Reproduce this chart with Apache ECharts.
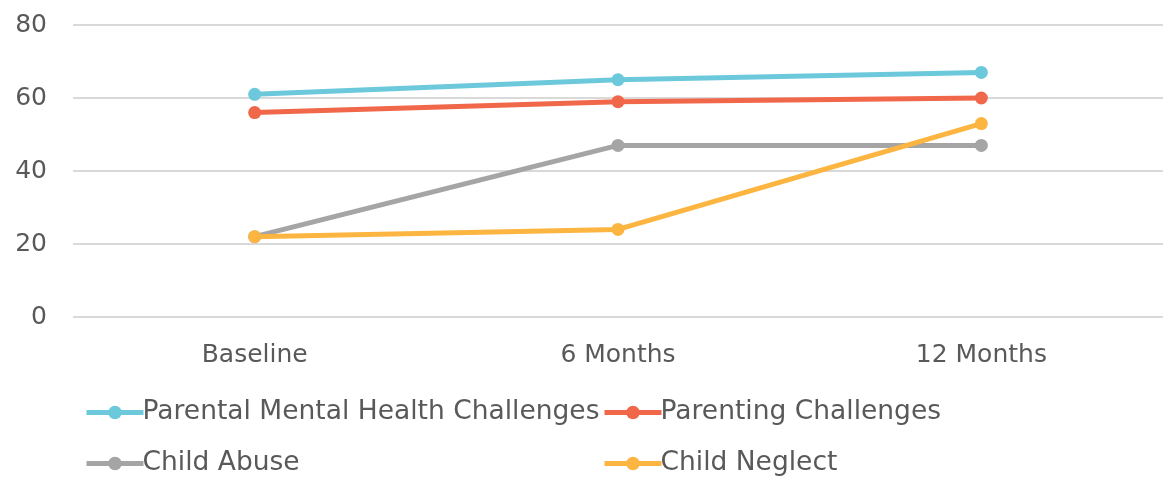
<!DOCTYPE html>
<html>
<head>
<meta charset="utf-8">
<script src="https://cdn.jsdelivr.net/npm/echarts@6/dist/echarts.min.js"></script>
<style>
  html, body { margin: 0; padding: 0; background: #fff; }
  #chart { width: 1173px; height: 477px; }
</style>
</head>
<body>
<div id="chart"></div>
<script>
// 时间点
let categories = ['Baseline', '6 Months', '12 Months'];
let yTicks = [0, 20, 40, 60, 80];

// 各系列数值
let parentalMentalHealth = [61, 65, 67];
let parentingChallenges = [56, 59, 60];
let childAbuse = [22, 47, 47];
let childNeglect = [22, 24, 53];

let fontName = 'DejaVu Sans, sans-serif';
let textColor = '#595959';

function lineSeries(name, data, color) {
    return {
        name: name,
        type: 'line',
        data: data,
        symbol: 'circle',
        symbolSize: 13,
        lineStyle: { width: 5, color: color },
        itemStyle: { color: color },
        emphasis: { disabled: true }
    };
}

let legendCommon = {
    orient: 'vertical',
    top: 399,
    height: 80,
    padding: 0,
    itemGap: 24,
    itemWidth: 57,
    itemHeight: 17,
    lineStyle: { width: 5 },
    textStyle: { fontFamily: fontName, fontSize: 26.5, color: textColor, padding: [0, 0, 0, -6] }
};

let options = {
    animation: false,
    grid: {
        left: 73,
        right: 10,
        top: 25,
        bottom: 160
    },
    legend: [
        Object.assign({ left: 84, data: ['Parental Mental Health Challenges', 'Child Abuse'] }, legendCommon),
        Object.assign({ left: 602, data: ['Parenting Challenges', 'Child Neglect'] }, legendCommon)
    ],
    xAxis: {
        type: 'category',
        data: categories,
        axisLine: { show: false },
        axisTick: { show: false },
        axisLabel: { fontFamily: fontName, fontSize: 25, color: textColor, margin: 26 }
    },
    yAxis: {
        type: 'value',
        min: yTicks[0],
        max: yTicks[yTicks.length - 1],
        interval: 20,
        axisLine: { show: false },
        axisTick: { show: false },
        axisLabel: { fontFamily: fontName, fontSize: 25, color: textColor, margin: 26 },
        splitLine: { lineStyle: { color: '#d9d9d9', width: 2 } }
    },
    series: [
        lineSeries('Parental Mental Health Challenges', parentalMentalHealth, '#6cc9dc'),
        lineSeries('Parenting Challenges', parentingChallenges, '#f0674a'),
        lineSeries('Child Abuse', childAbuse, '#a5a5a5'),
        lineSeries('Child Neglect', childNeglect, '#fdb541')
    ]
};

let chart = echarts.init(document.getElementById('chart'));
chart.setOption(options);
</script>
</body>
</html>
